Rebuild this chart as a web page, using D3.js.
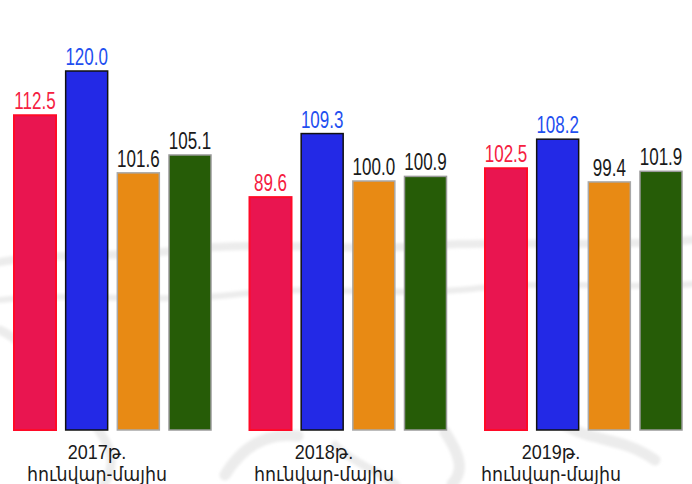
<!DOCTYPE html>
<html><head><meta charset="utf-8">
<script src="https://cdn.jsdelivr.net/npm/d3@7/dist/d3.min.js"></script>
<style>
html,body{margin:0;padding:0;background:#fff;}
svg{display:block;}
text{font-family:"Liberation Sans","DejaVu Sans",Arial,sans-serif;}
</style></head>
<body>
<script>
const groups = ["2017", "2018", "2019"];
const groupLine1 = ["2017թ.", "2018թ.", "2019թ."];
const groupLine2 = ["հունվար-մայիս", "հունվար-մայիս", "հունվար-մայիս"];
const seriesNames = ["s1", "s2", "s3", "s4"];
const s1 = [112.5, 89.6, 102.5];
const s2 = [120.0, 109.3, 108.2];
const s3 = [101.6, 100.0, 99.4];
const s4 = [105.1, 100.9, 101.9];
const seriesValues = [s1, s2, s3, s4];

const fills   = ["#e91550", "#2329e6", "#e88a14", "#265c07"];
const strokes = ["#ff0a28", "#111111", "#a8a8a8", "#9a9a9a"];
const strokeW = [2, 1.5, 1.5, 1.5];
const labelColors = ["#f5203f", "#1f4ff0", "#1a1a1a", "#1a1a1a"];

const W = 692, H = 484;
const svg = d3.select("body").append("svg").attr("width", W).attr("height", H);

const defs = svg.append("defs");
defs.append("filter").attr("id", "blur").append("feGaussianBlur").attr("stdDeviation", 1.5);

// faint background texture
const bg = svg.append("g").attr("fill", "none").attr("stroke", "#ececec")
  .attr("stroke-linecap", "round").attr("filter", "url(#blur)");
const texture = [
  {d: "M0,262 C60,252 120,258 180,250 C260,240 340,252 420,246 C500,240 600,248 692,240", w: 8},
  {d: "M0,300 C80,292 160,304 240,294 C320,284 400,298 480,288 C560,280 640,290 692,284", w: 6},
  {d: "M0,330 C30,345 45,370 25,400", w: 9},
  {d: "M225,475 C240,450 262,432 298,436", w: 11},
  {d: "M95,425 C110,445 118,462 104,484", w: 9},
  {d: "M445,432 C458,452 466,470 452,484", w: 11},
  {d: "M565,425 C592,442 620,436 655,460", w: 11},
  {d: "M335,445 C352,462 378,472 396,484", w: 8}
];
bg.selectAll("path").data(texture).join("path")
  .attr("d", d => d.d).attr("stroke-width", d => d.w);

const x0 = d3.scaleBand().domain(groups).range([14, 682]).paddingInner(0.1635).paddingOuter(0);
const x1 = d3.scaleBand().domain(seriesNames).range([0, x0.bandwidth()]).paddingInner(0.187).paddingOuter(0);
const y = d3.scaleLinear().domain([80, 100, 110, 120]).range([212, 181, 130, 71]);
const baseY = 430;

const data = [];
groups.forEach((g, gi) => {
  seriesNames.forEach((s, si) => {
    data.push({g, gi, s, si, v: seriesValues[si][gi]});
  });
});

const bars = svg.append("g");
bars.selectAll("rect").data(data).join("rect")
  .attr("x", d => x0(d.g) + x1(d.s))
  .attr("y", d => y(d.v))
  .attr("width", x1.bandwidth())
  .attr("height", d => baseY - y(d.v))
  .attr("fill", d => fills[d.si])
  .attr("stroke", d => strokes[d.si])
  .attr("stroke-width", d => strokeW[d.si]);

const labels = svg.append("g");
labels.selectAll("text").data(data).join("text")
  .attr("transform", d => `translate(${x0(d.g) + x1(d.s) + x1.bandwidth() / 2},${y(d.v) - 6}) scale(0.74,1)`)
  .attr("text-anchor", "middle")
  .attr("font-size", 23)
  .attr("fill", d => labelColors[d.si])
  .text(d => d.v.toFixed(1));

const xl = d3.scalePoint().domain(groups).range([97, 551]);
const cat = svg.append("g");
cat.selectAll("text.l1").data(groups).join("text").attr("class", "l1")
  .attr("transform", d => `translate(${xl(d)},459) scale(0.9,1)`)
  .attr("text-anchor", "middle").attr("font-size", 20).attr("fill", "#1a1a1a")
  .text((d, i) => groupLine1[i]);
cat.selectAll("text.l2").data(groups).join("text").attr("class", "l2")
  .attr("transform", d => `translate(${xl(d)},481) scale(0.87,1)`)
  .attr("text-anchor", "middle").attr("font-size", 20).attr("fill", "#1a1a1a")
  .text((d, i) => groupLine2[i]);
</script>
</body></html>
